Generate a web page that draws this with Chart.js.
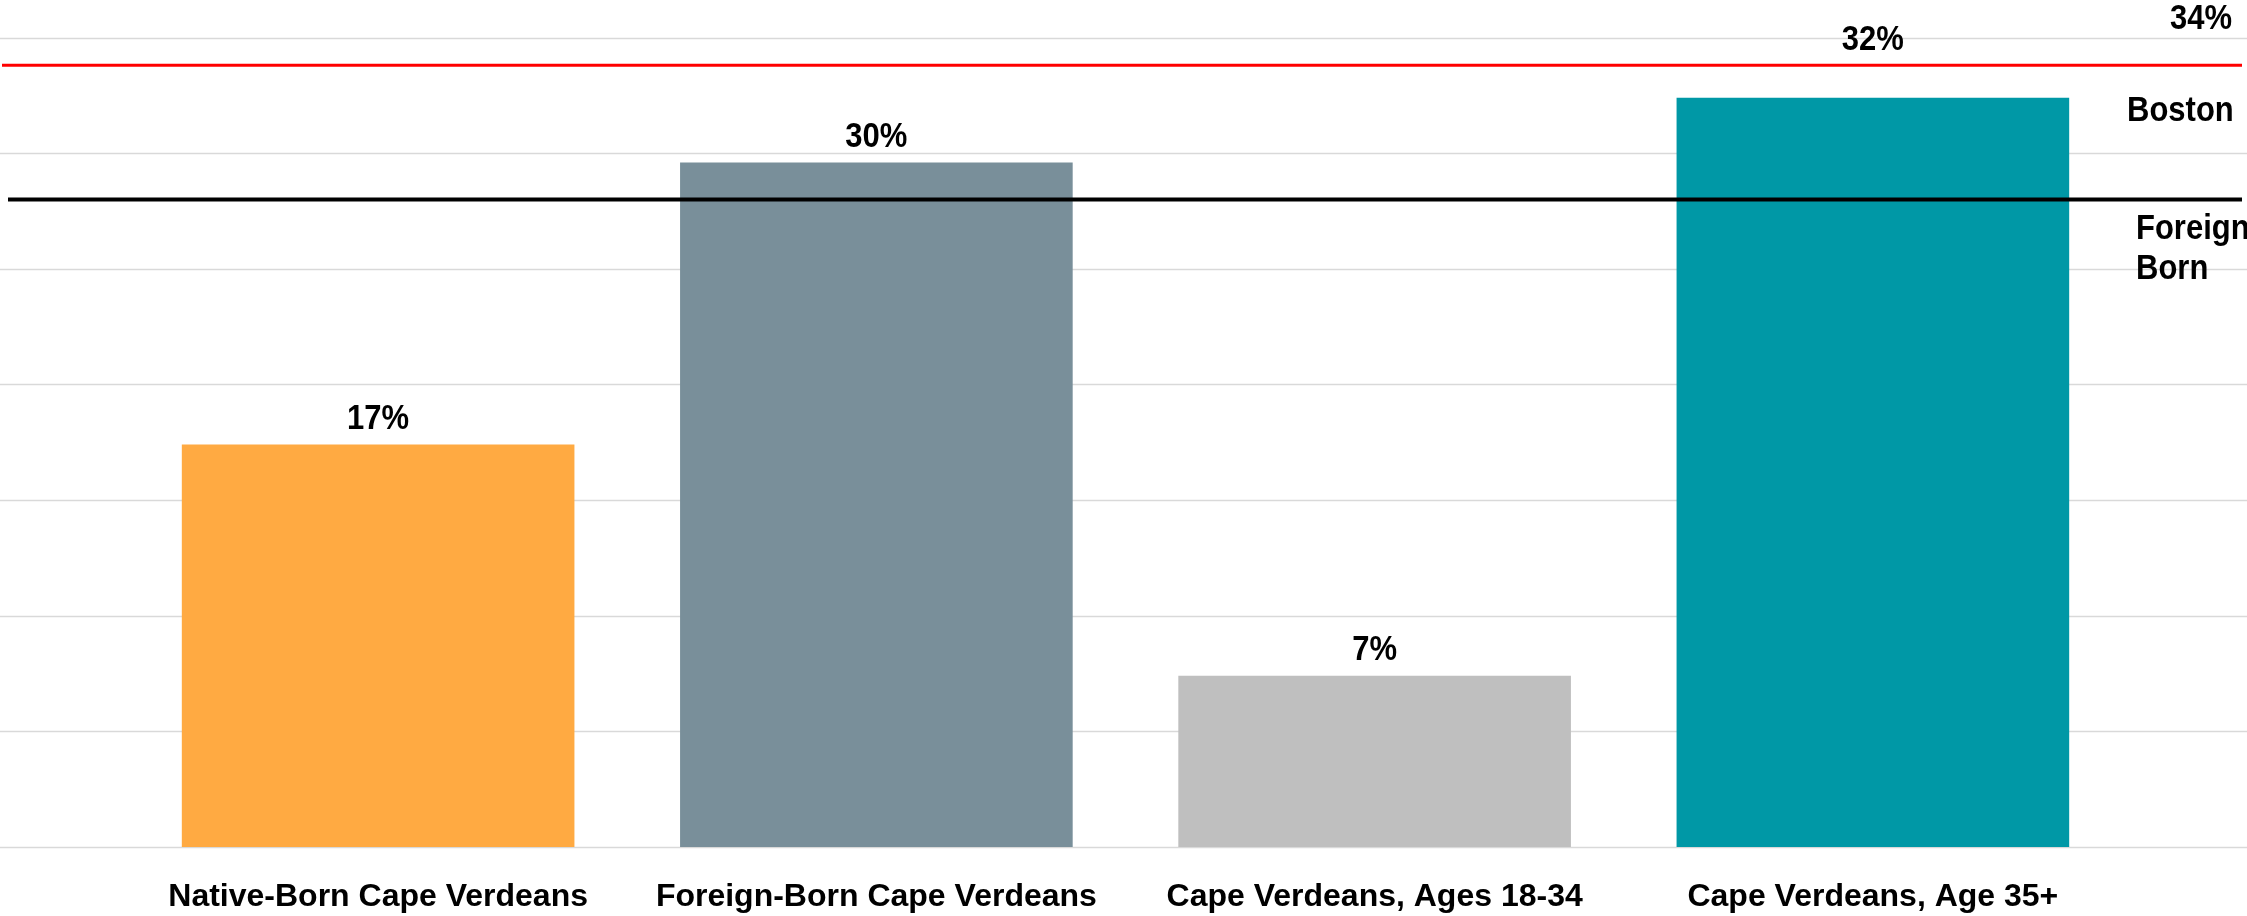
<!DOCTYPE html>
<html>
<head>
<meta charset="utf-8">
<script src="https://cdn.jsdelivr.net/npm/chart.js@4.4.1/dist/chart.umd.min.js"></script>
<style>
  html, body { margin: 0; padding: 0; background: #ffffff; }
  #wrap { width: 2247px; height: 916px; position: relative; }
</style>
</head>
<body>
<div id="wrap"><canvas id="chart"></canvas></div>
<script>
// ---- data ----
const categories = [
    'Native-Born Cape Verdeans',
    'Foreign-Born Cape Verdeans',
    'Cape Verdeans, Ages 18-34',
    'Cape Verdeans, Age 35+'
];
const shareValues = [17.4, 29.6, 7.4, 32.4];
const shareLabels = ['17%', '30%', '7%', '32%'];
const barColors = ['#FFAA42', '#798F9A', '#BFBFBF', '#0098A6'];

// reference lines: Boston overall and foreign-born average
const refNames = ['Boston', 'Foreign Born'];
const refValues = [33.8, 28.0];
const refValueLabels = ['34%', ''];
const refColors = ['#FF0000', '#000000'];

const yTicks = [0, 5, 10, 15, 20, 25, 30, 35];

const FONT = 'bold 31px "Liberation Sans", Arial, sans-serif';

// draw text a little taller than wide, like the source picture
function tallText(ctx, text, x, y) {
    ctx.save();
    ctx.translate(x, y);
    ctx.scale(1, 1.12);
    ctx.fillText(text, 0, 0);
    ctx.restore();
}

/**
 * Gridlines run the full width of the picture, not just the plot area
 */
const fullGridPlugin = {
    id: 'fullGrid',
    beforeDatasetsDraw(chart) {
        const { ctx, scales: { y } } = chart;
        ctx.save();
        ctx.strokeStyle = '#D9D9D9';
        ctx.lineWidth = 1.5;
        yTicks.forEach(v => {
            const py = Math.round(y.getPixelForValue(v)) + 0.5;
            ctx.beginPath();
            ctx.moveTo(0, py);
            ctx.lineTo(chart.width, py);
            ctx.stroke();
        });
        ctx.restore();
    }
};

/**
 * Reference lines, their captions and the value labels above each bar
 */
const annotationsPlugin = {
    id: 'annotations',
    afterDatasetsDraw(chart) {
        const { ctx, chartArea, scales: { y } } = chart;
        ctx.save();

        // reference lines
        const lineYs = refValues.map(v => y.getPixelForValue(v));
        lineYs.forEach((py, i) => {
            ctx.strokeStyle = refColors[i];
            ctx.lineWidth = i === 0 ? 3 : 4;
            ctx.beginPath();
            ctx.moveTo(i === 0 ? 2 : 8, py);
            ctx.lineTo(chart.width - 5, py);
            ctx.stroke();
        });

        ctx.fillStyle = '#000000';
        ctx.font = FONT;
        ctx.textBaseline = 'middle';

        // line captions at the right margin
        ctx.textAlign = 'left';
        tallText(ctx, refNames[0], chartArea.right + 5, lineYs[0] + 46);
        const fbParts = refNames[1].split(' ');
        tallText(ctx, fbParts[0], chartArea.right + 14, lineYs[1] + 30);
        tallText(ctx, fbParts[1], chartArea.right + 14, lineYs[1] + 70);
        ctx.textAlign = 'center';
        tallText(ctx, refValueLabels[0], chart.width - 46, lineYs[0] - 46);

        // bar value labels, lifted above a reference line when they would hit it
        const meta = chart.getDatasetMeta(0);
        meta.data.forEach((bar, i) => {
            let ly = bar.y - 25;
            lineYs.forEach(lyRef => {
                if (Math.abs(ly - lyRef) < 18) {
                    ly = lyRef - 25;
                }
            });
            tallText(ctx, shareLabels[i], bar.x, ly);
        });

        ctx.restore();
    }
};

const ctx = document.getElementById('chart').getContext('2d');

new Chart(ctx, {
    type: 'bar',
    data: {
        labels: categories,
        datasets: [{
            data: shareValues,
            backgroundColor: barColors,
            borderWidth: 0,
            barPercentage: 0.788,
            categoryPercentage: 1.0
        }]
    },
    options: {
        responsive: true,
        maintainAspectRatio: false,
        animation: false,
        layout: {
            padding: { top: 37.5, left: 129, right: 125, bottom: 0 }
        },
        plugins: {
            legend: { display: false },
            tooltip: { enabled: false }
        },
        scales: {
            x: {
                grid: { display: false, drawTicks: false },
                border: { display: false },
                afterFit(scale) {
                    // keep the plot bottom where the source has it
                    scale.height = 69;
                },
                ticks: {
                    color: '#000000',
                    padding: 31,
                    maxRotation: 0,
                    autoSkip: false,
                    font: { family: '"Liberation Sans", Arial, sans-serif', size: 32, weight: 'bold' }
                }
            },
            y: {
                display: false,
                min: 0,
                max: 35,
                grid: { display: false }
            }
        }
    },
    plugins: [fullGridPlugin, annotationsPlugin]
});
</script>
</body>
</html>
